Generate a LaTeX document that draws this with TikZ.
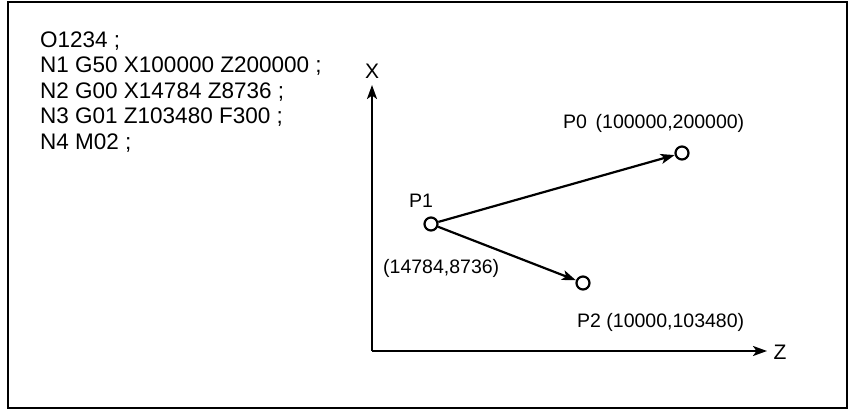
\documentclass[tikz,border=0pt]{standalone}
\usepackage{fontspec}
\setmainfont{Liberation Sans}
\usetikzlibrary{arrows.meta, positioning}

\begin{document}
\begin{tikzpicture}[x=1pt, y=-1pt,
    txt/.style={inner sep=0pt, font=\fontsize{19.5}{22}\selectfont},
    code/.style={inner sep=0pt, anchor=base west, font=\fontsize{22.5}{25}\selectfont},
    pnt/.style={circle, draw, line width=2.2pt, minimum size=13pt, inner sep=0pt},
    arr/.style={line width=2.2pt, -{Stealth[length=14pt, width=10pt, inset=3.5pt]}}]
        \useasboundingbox (0,0) rectangle (852,410);
        % Rahmen
        \draw[line width=1.5pt] (8,2) rectangle (847,408);

        % Programm
        \node[code] (l0) at (40,47) {O1234 ;};
        \node[code] (l1) at (40,72.5) {N1 G50 X100000 Z200000 ;};
        \node[code] (l2) at (40,98) {N2 G00 X14784 Z8736 ;};
        \node[code] (l3) at (40,123.5) {N3 G01 Z103480 F300 ;};
        \node[code] (l4) at (40,149) {N4 M02 ;};

        % Achsen
        \coordinate (org) at (372,351);
        \coordinate (xend) at (372,85);
        \coordinate (zend) at (767,351);
        \draw[arr] (org) -- (xend);
        \draw[arr] (org) -- (zend);
        \node[txt, font=\fontsize{21}{24}\selectfont] (xlab) at (372,71) {X};
        \node[txt, font=\fontsize{21}{24}\selectfont] (zlab) at (780,352) {Z};

        % Punkte
        \node[pnt] (p1) at (431,224) {};
        \node[pnt] (p0) at (682,153) {};
        \node[pnt] (p2) at (583,283) {};
        \draw[arr] (p1) -- (p0);
        \draw[arr] (p1) -- (p2);

        % Beschriftungen
        \node[txt, anchor=west] (p1lab) at (409,201) {P1};
        \node[txt, anchor=west] (p1pos) at (383,268) {(14784,8736)};
        \node[txt, anchor=west] (p0lab) at (563,123) {P0 \,(100000,200000)};
        \node[txt, anchor=west] (p2lab) at (577,322) {P2 (10000,103480)};
      \end{tikzpicture}
\end{document}
